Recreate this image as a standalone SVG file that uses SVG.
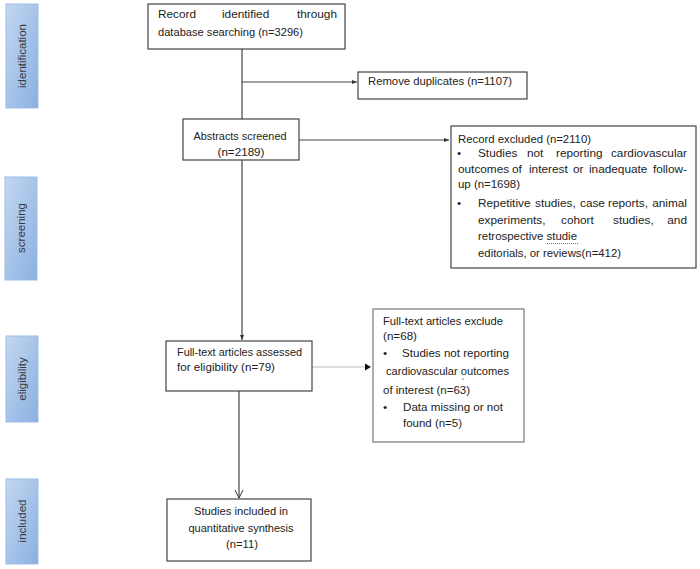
<svg xmlns="http://www.w3.org/2000/svg" width="700" height="569" viewBox="0 0 700 569">
<defs>
<linearGradient id="bar" x1="0" y1="0" x2="1" y2="1">
<stop offset="0" stop-color="#c3d7f1"/>
<stop offset="1" stop-color="#8ab0e0"/>
</linearGradient>
<marker id="arr" markerWidth="6" markerHeight="6" refX="5" refY="3" orient="auto" markerUnits="userSpaceOnUse">
<path d="M0,1 L5,3 L0,5 Z" fill="#333"/>
</marker>
<marker id="vee" markerWidth="10" markerHeight="10" refX="8" refY="5" orient="auto" markerUnits="userSpaceOnUse">
<path d="M0,1 L8,5 L0,9" fill="none" stroke="#333" stroke-width="1"/>
</marker>
</defs>
<style>
text{font-family:"Liberation Sans",Arial,sans-serif;font-size:11.8px;fill:#222}
.side{fill:url(#bar);stroke:#9dbde6;stroke-width:1}
.stext{fill:#3a3a3a;font-size:11.5px}
.box{fill:#fff;stroke:#444;stroke-width:1.2}
.box2{fill:#fff;stroke:#777;stroke-width:1.2}
.c{text-anchor:middle}
.e{text-anchor:end}
.ln{fill:none;stroke:#444;stroke-width:1.2}
</style>
<rect width="700" height="569" fill="#fff"/>

<g id="side-identification">
<rect class="side" x="6" y="4" width="32" height="104"/>
<text class="stext c" transform="translate(26,56) rotate(-90)">identification</text>
</g>
<g id="side-screening">
<rect class="side" x="5" y="177" width="32" height="103"/>
<text class="stext c" transform="translate(25,228) rotate(-90)">screening</text>
</g>
<g id="side-eligibility">
<rect class="side" x="6" y="336" width="32" height="86"/>
<text class="stext c" transform="translate(26,379) rotate(-90)">eligibility</text>
</g>
<g id="side-included">
<rect class="side" x="6" y="479" width="32" height="85"/>
<text class="stext c" transform="translate(26,521) rotate(-90)">included</text>
</g>

<g id="connectors">
<line class="ln" x1="242" y1="49" x2="242" y2="119"/>
<line class="ln" x1="242" y1="82" x2="357" y2="82" marker-end="url(#arr)"/>
<line class="ln" x1="299" y1="140" x2="449" y2="140" marker-end="url(#arr)"/>
<line class="ln" x1="242" y1="160" x2="242" y2="340" marker-end="url(#arr)"/>
<line x1="312" y1="367" x2="366" y2="367" stroke="#bbb" stroke-width="1.2"/>
<path d="M365,363.5 L371,367 L365,370.5 Z" fill="#111"/>
<line class="ln" x1="239" y1="391" x2="239" y2="498" marker-end="url(#vee)"/>
</g>

<g id="node-record">
<rect class="box" x="148" y="4" width="197" height="45"/>
<text x="158" y="18">Record</text>
<text x="222" y="18">identified</text>
<text class="e" x="337" y="18">through</text>
<text x="158" y="36" textLength="145" lengthAdjust="spacingAndGlyphs">database searching (n=3296)</text>
</g>

<g id="node-remove">
<rect class="box" x="358" y="72" width="169" height="27"/>
<text x="368" y="85" textLength="144" lengthAdjust="spacingAndGlyphs">Remove duplicates (n=1107)</text>
</g>

<g id="node-abstracts">
<rect class="box" x="183" y="119" width="116" height="41"/>
<text class="c" x="240" y="140" textLength="93" lengthAdjust="spacingAndGlyphs">Abstracts screened</text>
<text class="c" x="241" y="156" textLength="47" lengthAdjust="spacingAndGlyphs">(n=2189)</text>
</g>

<g id="node-excluded">
<rect class="box" x="451" y="126" width="245" height="142"/>
<text x="458" y="143" textLength="133" lengthAdjust="spacingAndGlyphs">Record excluded (n=2110)</text>
<text x="457" y="157">•</text>
<text x="478" y="157">Studies</text>
<text x="527" y="157">not</text>
<text x="556" y="157">reporting</text>
<text class="e" x="687" y="157">cardiovascular</text>
<text x="458" y="173">outcomes</text>
<text x="512" y="173">of</text>
<text x="529" y="173">interest</text>
<text x="573" y="173">or</text>
<text x="589" y="173">inadequate</text>
<text class="e" x="687" y="173">follow-</text>
<text x="458" y="188" textLength="62" lengthAdjust="spacingAndGlyphs">up (n=1698)</text>
<text x="457" y="207">•</text>
<text x="478" y="207">Repetitive</text>
<text x="535" y="207">studies,</text>
<text x="580" y="207">case</text>
<text x="608" y="207">reports,</text>
<text class="e" x="687" y="207">animal</text>
<text x="478" y="224">experiments,</text>
<text x="561" y="224">cohort</text>
<text x="613" y="224">studies,</text>
<text class="e" x="687" y="224">and</text>
<text x="478" y="240" textLength="99" lengthAdjust="spacingAndGlyphs">retrospective studie</text>
<line x1="547" y1="243.5" x2="578" y2="243.5" stroke="#e04040" stroke-width="1" stroke-dasharray="1,1"/>
<text x="478" y="257" textLength="143" lengthAdjust="spacingAndGlyphs">editorials, or reviews(n=412)</text>
</g>

<g id="node-fulltext">
<rect class="box" x="166" y="341" width="146" height="50"/>
<text x="177" y="356" textLength="125" lengthAdjust="spacingAndGlyphs">Full-text articles assessed</text>
<text x="177" y="371" textLength="98" lengthAdjust="spacingAndGlyphs">for eligibility (n=79)</text>
</g>

<g id="node-fulltext-excluded">
<rect class="box2" x="373" y="309" width="151" height="133"/>
<text x="383" y="325" textLength="120" lengthAdjust="spacingAndGlyphs">Full-text articles exclude</text>
<text x="383" y="340" textLength="34" lengthAdjust="spacingAndGlyphs">(n=68)</text>
<text x="383" y="357">•</text>
<text x="402" y="357" textLength="107" lengthAdjust="spacingAndGlyphs">Studies not reporting</text>
<text x="386" y="375" textLength="123" lengthAdjust="spacingAndGlyphs">cardiovascular outcomes</text>
<circle cx="463" cy="379" r="0.7" fill="#555"/>
<text x="383" y="394" textLength="87" lengthAdjust="spacingAndGlyphs">of interest (n=63)</text>
<text x="383" y="411">•</text>
<text x="403" y="411" textLength="100" lengthAdjust="spacingAndGlyphs">Data missing or not</text>
<text x="403" y="427" textLength="59" lengthAdjust="spacingAndGlyphs">found (n=5)</text>
</g>

<g id="node-included">
<rect class="box" x="167" y="499" width="144" height="62"/>
<text class="c" x="241" y="515" textLength="94" lengthAdjust="spacingAndGlyphs">Studies included in</text>
<text class="c" x="241" y="532" textLength="105" lengthAdjust="spacingAndGlyphs">quantitative synthesis</text>
<text class="c" x="242" y="548" textLength="32" lengthAdjust="spacingAndGlyphs">(n=11)</text>
</g>
</svg>
